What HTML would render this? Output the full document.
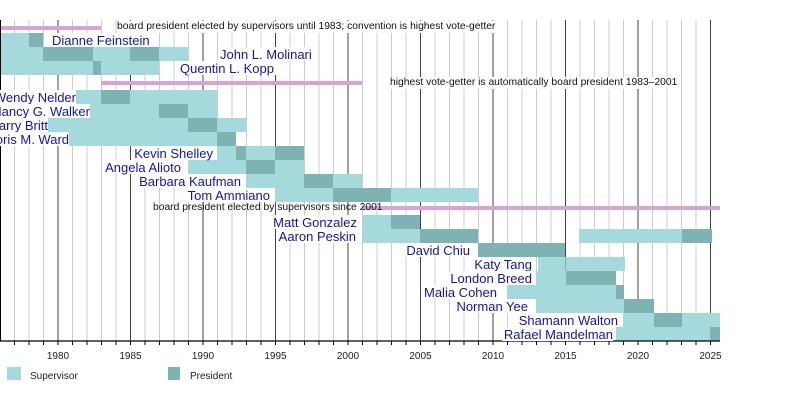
<!DOCTYPE html>
<html><head><meta charset="utf-8"><style>
body{margin:0;width:800px;height:400px;background:#fff;position:relative;overflow:hidden;font-family:"Liberation Sans",sans-serif}
.l{position:absolute;height:14px;line-height:15px;font-size:13px;color:#1515a8;background:#fff;white-space:nowrap;text-align:right}
.a{position:absolute;font-size:10.3px;color:#111;white-space:nowrap;line-height:12px}
</style></head><body>
<svg width="800" height="400" style="position:absolute;left:0;top:0" id="s"></svg>
<div id="labs"></div>
<script>
const s=document.getElementById('s');const NS='http://www.w3.org/2000/svg';
function X(y){return (y-1976)*14.5;}
function el(t,a){const e=document.createElementNS(NS,t);for(const k in a)e.setAttribute(k,a[k]);s.appendChild(e);return e;}
for(let y=1977;y<=2025;y++){const x=X(y);el('line',{x1:x,x2:x,y1:20,y2:341,stroke:y%5==0?'#444':'#ccc','stroke-width':1});}
const L='#a6d9db',D='#7fb2b3',P='#d8a4d8';
function r(x1,x2,y,c,h){el('rect',{x:x1,y:y,width:x2-x1,height:h||14,fill:c});}
r(0,101,26,P,4);r(101,362,81,P,4);r(362,720,206,P,4);
const rows=[
[33,[[0,29,L],[29,43,D]]],
[47,[[0,43,L],[43,93,D],[93,130,L],[130,159,D],[159,189,L]]],
[61,[[0,93,L],[93,101,D],[101,159,L]]],
[90,[[72,101,L],[101,130,D],[130,217,L]]],
[104,[[60,159,L],[159,188,D],[188,217,L]]],
[118,[[48,188,L],[188,217,D],[217,246,L]]],
[132,[[58,217,L],[217,236,D]]],
[146,[[217,236,L],[236,246,D],[246,275,L],[275,304,D]]],
[160,[[188,246,L],[246,275,D],[275,304,L]]],
[174,[[246,304,L],[304,333,D],[333,362,L]]],
[188,[[275,333,L],[333,391,D],[391,478,L]]],
[215,[[362,391,L],[391,420,D]]],
[229,[[362,420,L],[420,478,D],[579,682,L],[682,712,D]]],
[243,[[478,565,D]]],
[257,[[538,565,L],[565,566,D],[566,625,L]]],
[271,[[536,566,L],[566,616,D]]],
[285,[[507,616,L],[616,624,D]]],
[299,[[536,624,L],[624,654,D]]],
[313,[[623,654,L],[654,682,D],[682,720,L]]],
[327,[[616,710,L],[710,720,D]]]];
rows.forEach(([y,bs])=>bs.forEach(b=>r(b[0],b[1],y,b[2])));
el('line',{x1:0,x2:720,y1:341,y2:341,stroke:'#000','stroke-width':1.2});
el('line',{x1:0.5,x2:0.5,y1:20,y2:341,stroke:'#000','stroke-width':1});
for(let y=1977;y<=2025;y++){const x=X(y);el('line',{x1:x,x2:x,y1:341,y2:345,stroke:'#000','stroke-width':1});
 if(y%5==0){const t=el('text',{x:x,y:359,'text-anchor':'middle','font-size':10,fill:'#222','font-family':'Liberation Sans'});t.textContent=y;}}
r(7,21,367,L,13);r(168,180,367,D,13);
[[30,'Supervisor'],[190,'President']].forEach(([x,t])=>{const e=el('text',{x:x,y:379,'font-size':10,fill:'#222','font-family':'Liberation Sans'});e.textContent=t;});
const labs=[["Dianne Feinstein",33,52,150,0],["John L. Molinari",47,220,312,0],["Quentin L. Kopp",61,180,276,0],
["Wendy Nelder",90,-10,76,1],["Nancy G. Walker",104,-10,90,1],["Larry Britt",118,-20,48,1],["Doris M. Ward",132,-20,69,1],
["Kevin Shelley",146,0,213,1],["Angela Alioto",160,0,181,1],["Barbara Kaufman",174,0,241,1],["Tom Ammiano",188,0,270,1],
["Matt Gonzalez",215,0,357,1],["Aaron Peskin",229,0,356,1],["David Chiu",243,0,470,1],["Katy Tang",257,0,532,1],
["London Breed",271,0,532,1],["Malia Cohen",285,0,497,1],["Norman Yee",299,0,528,1],["Shamann Walton",313,0,618,1],["Rafael Mandelman",327,0,613,1]];
let h='';
labs.forEach(([t,y,x0,x1,right])=>{
 if(right) h+=`<div class="l" style="top:${y}px;right:${800-x1}px;padding-left:2px">${t}</div>`;
 else h+=`<div class="l" style="top:${y}px;left:${x0}px;padding-right:2px">${t}</div>`;});
h+=`<div class="a" style="left:117px;top:21px;background:#fff">board president elected by supervisors until 1983; convention is highest vote-getter</div>`;
h+=`<div class="a" style="left:390px;top:77px;background:#fff">highest vote-getter is automatically board president 1983–2001</div>`;
h+=`<div class="a" style="left:153px;top:202px">board president elected by supervisors since 2001</div>`;
document.getElementById('labs').innerHTML=h;
</script>
</body></html>
